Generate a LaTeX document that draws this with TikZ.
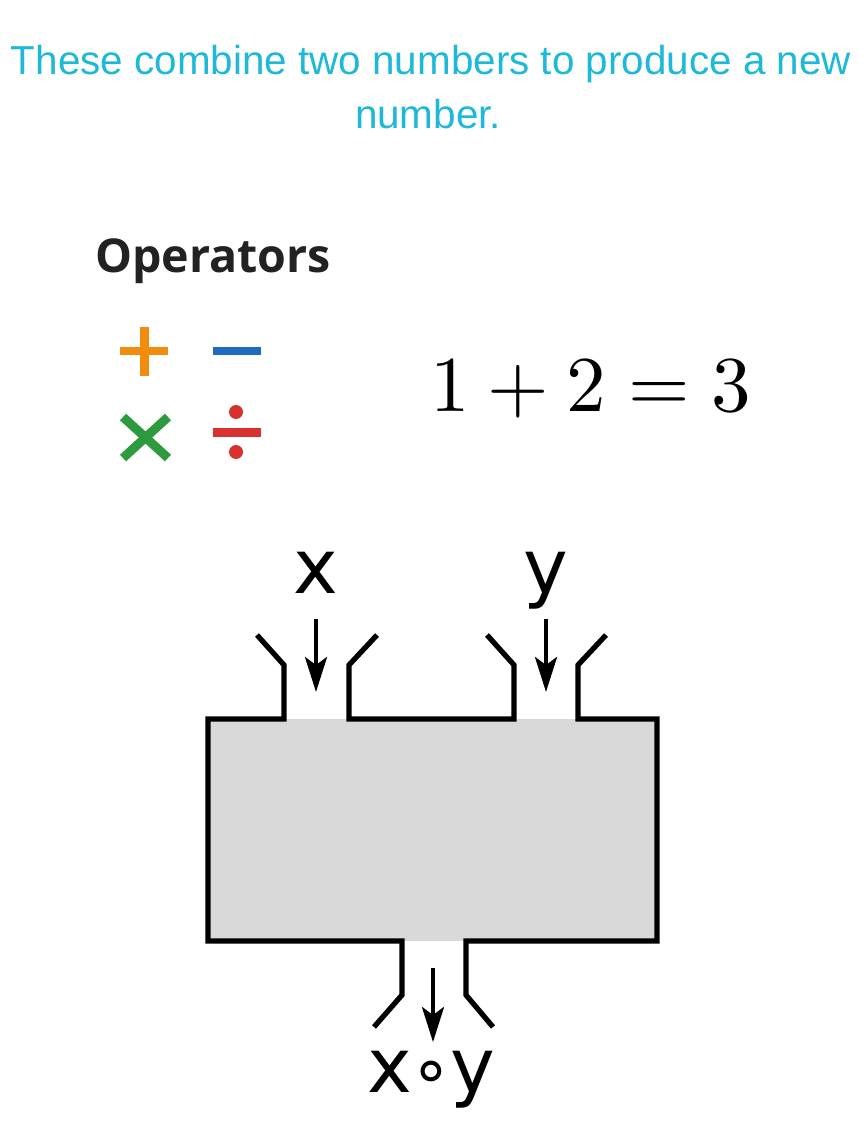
\documentclass[tikz,border=0pt]{standalone}
\usepackage{fontspec}
\usepackage{xcolor}
\usepackage{graphicx}
\newfontfamily\titlefont{Liberation Sans}
\newfontfamily\headfont{Open Sans}
\newfontfamily\labelfont{DejaVu Sans}
\definecolor{opcyan}{RGB}{30,184,216}
\definecolor{opdark}{RGB}{34,34,34}
\definecolor{oporange}{RGB}{242,140,15}
\definecolor{opblue}{RGB}{31,107,192}
\definecolor{opgreen}{RGB}{46,154,62}
\definecolor{opred}{RGB}{217,48,48}
\definecolor{opgray}{RGB}{217,217,217}
\usetikzlibrary{arrows.meta,positioning}

\begin{document}
\begin{tikzpicture}[x=0.02cm,y=-0.02cm,
  wall/.style={line width=3pt,line join=miter},
  feed/.style={line width=2.4pt,-{Stealth[length=7mm,width=4.4mm,inset=1.6mm]}},
  lbl/.style={font=\labelfont\fontsize{43}{48}\selectfont,inner sep=0pt,anchor=base},
  sym/.style={line width=0.18cm}]
  \useasboundingbox (0,0) rectangle (863,1148);
  % heading text
  \node[font=\titlefont\fontsize{23}{27}\selectfont,text=opcyan,anchor=base,inner sep=0pt] (line1) at (431,75) {These combine two numbers to produce a new};
  \node[font=\titlefont\fontsize{23}{27}\selectfont,text=opcyan,anchor=base,inner sep=0pt] (line2) at (428,129) {number.};
  \node[font=\headfont\bfseries\fontsize{26.5}{32}\selectfont,text=opdark,anchor=base west,inner sep=0pt] (ops) at (95,273) {Operators};
  % the four operator signs
  \draw[sym,oporange] (120,351) -- (168,351) (144,327) -- (144,376);
  \draw[sym,opblue] (213,351) -- (261,351);
  \draw[sym,opgreen] (123,417) -- (168,458) (168,417) -- (123,458);
  \draw[sym,opred] (213,432) -- (261,432);
  \fill[opred] (236,412) circle (7) (236,452) circle (7);
  \node[anchor=base,inner sep=0pt] (sum) at (591,411) {\scalebox{4.5}{$1+2=3$}};
  % machine body
  \fill[opgray] (208,719) rectangle (657,941);
  \draw[wall] (257,635) -- (284,665) -- (284,719) -- (208,719) -- (208,941) -- (402,941) -- (402,995) -- (374,1027);
  \draw[wall] (377,635) -- (349,665) -- (349,719) -- (514,719) -- (514,665) -- (487,635);
  \draw[wall] (606,635) -- (578,665) -- (578,719) -- (657,719) -- (657,941) -- (466,941) -- (466,995) -- (493,1027);
  % inputs and output
  \node[lbl] (xin) at (316,593) {x};
  \node[lbl] (yin) at (546,593) {y};
  \node[lbl] (out) at (431,1092) {x\kern-1pt{\fontsize{38}{38}\selectfont∘}\kern-1pt y};
  \coordinate (xtop) at (316,619);
  \coordinate (xend) at (316,692);
  \coordinate (ytop) at (546,619);
  \coordinate (yend) at (546,692);
  \coordinate (otop) at (433,968);
  \coordinate (oend) at (433,1042);
  \draw[feed] (xtop) -- (xend);
  \draw[feed] (ytop) -- (yend);
  \draw[feed] (otop) -- (oend);
\end{tikzpicture}
\end{document}
